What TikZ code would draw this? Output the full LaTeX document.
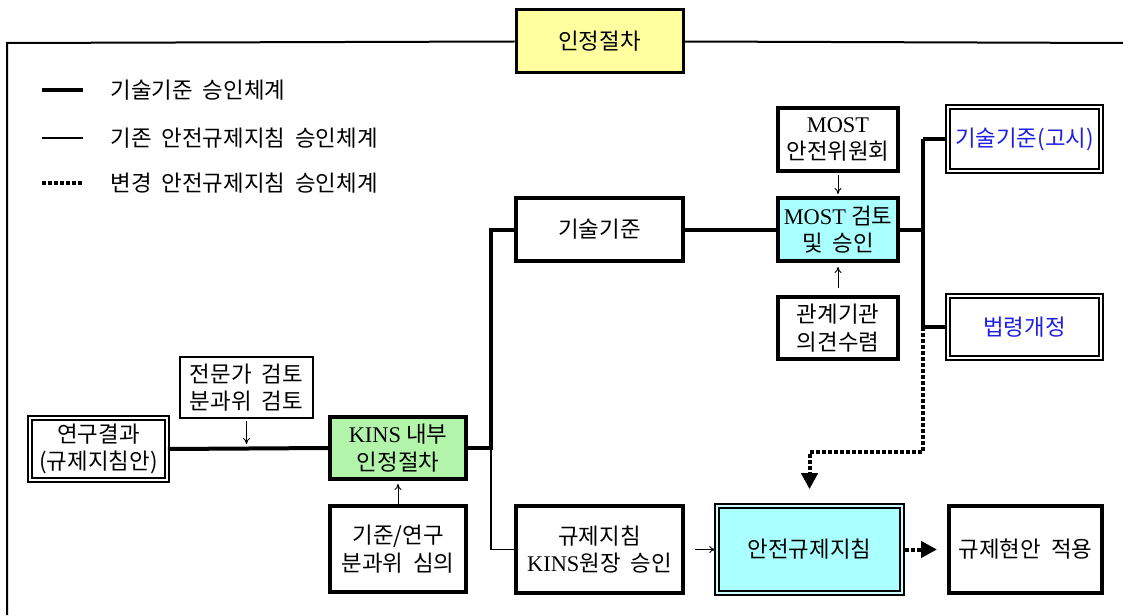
\documentclass[tikz,border=0pt]{standalone}
\usepackage{fontspec}
\setmainfont{Noto Sans CJK KR}
\newfontfamily\lat{Liberation Serif}
\usetikzlibrary{arrows.meta}
\definecolor{titleyellow}{RGB}{255,255,160}
\definecolor{kinsgreen}{RGB}{178,245,170}
\definecolor{mostcyan}{RGB}{170,255,255}
\definecolor{lawblue}{RGB}{30,30,230}
\begin{document}
\begin{tikzpicture}[x=0.5pt, y=-0.5pt, font=\fontsize{11.2}{13.8}\selectfont,
	stdbox/.style={draw, line width=2pt, inner sep=0pt, align=center},
	thinbox/.style={draw, line width=1pt, inner sep=0pt, align=center},
	dblbox/.style={draw, double, double distance=1.4pt, line width=0.8pt, inner sep=0pt, align=center},
	techline/.style={line width=2pt},
	oldline/.style={line width=0.9pt},
	chgline/.style={line width=2pt, dash pattern=on 2pt off 1pt},
	smallarrow/.style={line width=0.5pt, -{To[length=3pt,width=3.5pt]}},
	bigtip/.style={-{Triangle[length=8pt,width=8pt]}}]
	\useasboundingbox (0,0) rectangle (1123,615);
	% frame and title
	\node[stdbox, line width=1.5pt, fill=titleyellow, minimum width=83.5pt, minimum height=31.5pt] (title) at (599.5,41.5) {인정절차};
	\draw[line width=1pt] (7,615) -- (7,43) -- (title.west);
	\draw[line width=1pt] (title.east) -- (1123,43);
	% legend
	\draw[techline] (42,90) -- (83,90);
	\node[anchor=west, inner sep=0pt] (leg1) at (110,90) {기술기준\ \ 승인체계};
	\draw[line width=0.7pt] (42,138) -- (83,138);
	\node[anchor=west, inner sep=0pt] (leg2) at (110,138) {기존\ \ 안전규제지침\ \ 승인체계};
	\draw[line width=2pt, dash pattern=on 1.8pt off 1.2pt] (42,183) -- (83,183);
	\node[anchor=west, inner sep=0pt] (leg3) at (110,183) {변경\ \ 안전규제지침\ \ 승인체계};
	% KINS stage
	\node[dblbox, minimum width=68.5pt, minimum height=31pt] (result) at (98.5,449) {연구결과\\(규제지침안)};
	\node[thinbox, minimum width=66.5pt, minimum height=30.5pt] (expert) at (246.5,387.5) {전문가\ \ 검토\\분과위\ \ 검토};
	\node[stdbox, fill=kinsgreen, minimum width=68pt, minimum height=31pt] (kins) at (398,448) {{\lat KINS} 내부\\인정절차};
	\node[stdbox, minimum width=68pt, minimum height=43pt] (subcom) at (398,549) {기준/연구\\분과위\ \ 심의};
	\draw[techline] (result.east) -- (kins.west);
	\draw[smallarrow, shorten <=1pt, shorten >=2pt] (expert.south) -- (expert.south |- kins.west);
	\draw[smallarrow, shorten >=1.5pt] (subcom.north) -- (kins.south);
	\coordinate (split) at (491,448);
	% technical standard branch
	\node[stdbox, minimum width=83.5pt, minimum height=31.5pt] (tech) at (599.5,229.5) {기술기준};
	\node[stdbox, fill=mostcyan, minimum width=60pt, minimum height=31.5pt] (most) at (838,229.5) {{\lat MOST} 검토\\및\ \ 승인};
	\node[stdbox, minimum width=60pt, minimum height=31.5pt] (mostcom) at (838,139.5) {{\lat MOST}\\안전위원회};
	\node[stdbox, minimum width=60pt, minimum height=31pt] (relorg) at (838,328) {관계기관\\의견수렴};
	\node[dblbox, text=lawblue, minimum width=76.5pt, minimum height=32pt] (notice) at (1024.5,139) {기술기준(고시)};
	\node[dblbox, text=lawblue, minimum width=76.5pt, minimum height=31pt] (law) at (1024.5,327) {법령개정};
	\draw[techline] (kins.east) -- (split) |- (tech.west);
	\draw[techline] (tech.east) -- (most.west);
	\draw[smallarrow, shorten <=1pt, shorten >=1pt] (mostcom.south) -- (most.north);
	\draw[smallarrow, shorten <=3.5pt, shorten >=2pt] (relorg.north) -- (most.south);
	\coordinate (merge) at (923,229.5);
	\draw[techline] (most.east) -- (merge);
	\draw[techline] (merge |- notice.west) -- (merge |- law.west);
	\draw[techline] (merge |- notice.west) -- (notice.west);
	\draw[techline] (merge |- law.west) -- (law.west);
	% safety guide branch
	\node[stdbox, minimum width=83.5pt, minimum height=43.5pt] (guide) at (599.5,549.5) {규제지침\\{\lat KINS}원장\ \ 승인};
	\node[dblbox, fill=mostcyan, double=mostcyan!60!white, minimum width=92.5pt, minimum height=43.5pt] (safety) at (809.5,549.5) {안전규제지침};
	\node[stdbox, minimum width=76.5pt, minimum height=43.5pt] (apply) at (1025.5,549.5) {규제현안\ \ 적용};
	\draw[oldline] (split) |- (guide.west);
	\draw[smallarrow, shorten <=5pt, shorten >=0.5pt] (guide.east) -- (safety.west);
	\coordinate (bend) at (923,452);
	\draw[chgline, bigtip, shorten >=8pt] (merge |- law.west) -- (bend) -| (safety.north);
	\draw[chgline, bigtip, shorten <=1pt, shorten >=5pt] (safety.east) -- (apply.west);
\end{tikzpicture}
\end{document}
